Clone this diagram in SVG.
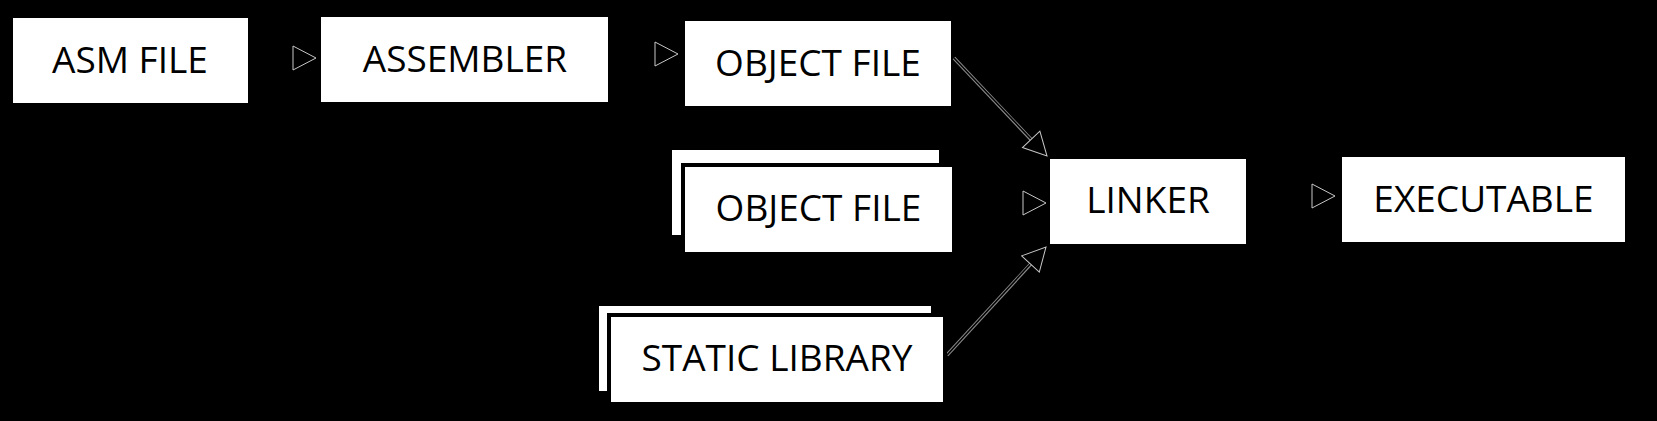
<svg xmlns="http://www.w3.org/2000/svg" width="1657" height="421" viewBox="0 0 1657 421">
<style>
.box{fill:#fff;stroke:none}
.front{fill:#fff;stroke:#000;stroke-width:4}
.lbl{font-family:"Open Sans","Liberation Sans",sans-serif;font-size:37px;fill:#000;text-anchor:middle}
.line{stroke:#000;stroke-width:1.5;fill:none}
.halo{stroke:#8a8a8a;stroke-width:3.5;fill:none}
</style>
<defs>
<marker id="ah" markerUnits="userSpaceOnUse" markerWidth="26" markerHeight="28" refX="23" refY="12" orient="auto" viewBox="-1 -1 26 28">
<path d="M0,0 L23,12 L0,24 Z" fill="#000" stroke="#c8c8c8" stroke-width="1"/>
</marker>
</defs>
<rect x="0" y="0" width="1657" height="421" fill="#000"/>
<g id="connectors">
<line class="line" x1="248" y1="58" x2="316" y2="58" marker-end="url(#ah)"/>
<line class="line" x1="608" y1="54" x2="678" y2="54" marker-end="url(#ah)"/>
<line class="halo" x1="954" y1="58" x2="1040" y2="149"/>
<line class="line" x1="954" y1="58" x2="1047" y2="156" marker-end="url(#ah)"/>
<line class="line" x1="952" y1="203" x2="1046" y2="203" marker-end="url(#ah)"/>
<line class="halo" x1="947" y1="355" x2="1039" y2="255"/>
<line class="line" x1="947" y1="355" x2="1046" y2="247" marker-end="url(#ah)"/>
<line class="line" x1="1246" y1="196" x2="1335" y2="196" marker-end="url(#ah)"/>
</g>
<g id="asm-file">
<rect class="box" x="13" y="18" width="235" height="85"/>
<text class="lbl" x="130" y="73">ASM FILE</text>
</g>
<g id="assembler">
<rect class="box" x="321" y="17" width="287" height="85"/>
<text class="lbl" x="465" y="72">ASSEMBLER</text>
</g>
<g id="object-file-1">
<rect class="box" x="685" y="21" width="266" height="85"/>
<text class="lbl" x="818" y="76">OBJECT FILE</text>
</g>
<g id="object-file-2">
<rect class="box" x="672" y="150" width="267" height="85"/>
<rect class="front" x="683" y="165" width="271" height="89"/>
<text class="lbl" x="818.5" y="221">OBJECT FILE</text>
</g>
<g id="static-library">
<rect class="box" x="599" y="306" width="332" height="85"/>
<rect class="front" x="609" y="315" width="336" height="89"/>
<text class="lbl" x="777" y="371">STATIC LIBRARY</text>
</g>
<g id="linker">
<rect class="box" x="1050" y="159" width="196" height="85"/>
<text class="lbl" x="1148" y="213">LINKER</text>
</g>
<g id="executable">
<rect class="box" x="1342" y="157" width="283" height="85"/>
<text class="lbl" x="1483.5" y="212">EXECUTABLE</text>
</g>
</svg>
